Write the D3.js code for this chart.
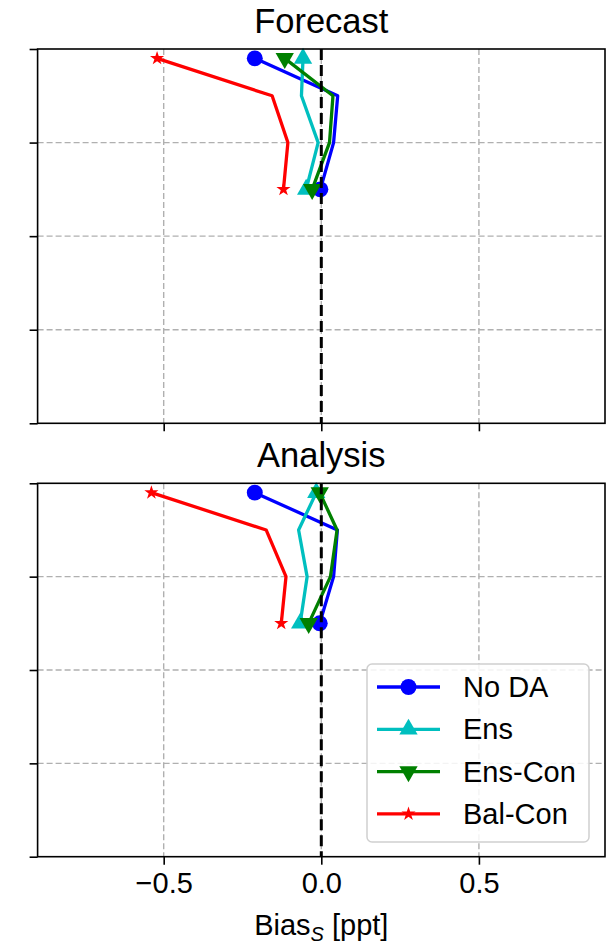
<!DOCTYPE html>
<html>
<head>
<meta charset="utf-8">
<script src="https://cdn.jsdelivr.net/npm/d3@7"></script>
<style>
  body { margin: 0; background: #fff; }
  svg { display: block; font-family: "Liberation Sans", Arial, sans-serif; }
</style>
</head>
<body>
<div id="chart"></div>
<script>
// depth levels (hidden y labels)
var depths = [5, 25, 50, 75];
var yTicks = [0, 50, 100, 150, 200];
var xTicks = [-0.5, 0, 0.5];
var seriesNames = ["No DA", "Ens", "Ens-Con", "Bal-Con"];

var forecastNoDA   = [-0.211, 0.052, 0.039, -0.003];
var forecastEns    = [-0.058, -0.063, -0.010, -0.048];
var forecastEnsCon = [-0.116, 0.037, 0.026, -0.029];
var forecastBalCon = [-0.521, -0.156, -0.106, -0.120];

var analysisNoDA   = [-0.211, 0.051, 0.039, -0.005];
var analysisEns    = [-0.016, -0.072, -0.045, -0.067];
var analysisEnsCon = [-0.005, 0.050, 0.029, -0.040];
var analysisBalCon = [-0.539, -0.175, -0.112, -0.127];

var colors = ["#0000ff", "#00bfbf", "#008000", "#ff0000"];
var symbols = [d3.symbolCircle, d3.symbolTriangle, d3.symbolTriangle, d3.symbolStar];
var symSizes = [200, 145, 145, 62];
var symRotate = [0, 0, 180, 0];

var width = 615, height = 945;
var svg = d3.select("#chart").append("svg")
    .attr("width", width)
    .attr("height", height);

var x = d3.scaleLinear().domain([-0.9, 0.9]).range([37.6, 605]);

function symbolPath(i) {
    return d3.symbol().type(symbols[i]).size(symSizes[i])();
}

function drawPanel(top, bottom, title, series, showLabels) {
    var y = d3.scaleLinear().domain([0, 200]).range([top, bottom]);
    var g = svg.append("g");

    // grid
    g.selectAll(".gx").data(xTicks).enter().append("line")
        .attr("x1", function (d) { return x(d); })
        .attr("x2", function (d) { return x(d); })
        .attr("y1", top).attr("y2", bottom)
        .attr("stroke", "#b0b0b0").attr("stroke-width", 1.4)
        .attr("stroke-dasharray", "6,3");
    g.selectAll(".gy").data(yTicks.slice(1, -1)).enter().append("line")
        .attr("x1", x.range()[0]).attr("x2", x.range()[1])
        .attr("y1", function (d) { return y(d); })
        .attr("y2", function (d) { return y(d); })
        .attr("stroke", "#b0b0b0").attr("stroke-width", 1.4)
        .attr("stroke-dasharray", "6,3");

    var line = d3.line()
        .x(function (d) { return x(d[0]); })
        .y(function (d) { return y(d[1]); });

    series.forEach(function (vals, i) {
        var pts = vals.map(function (v, j) { return [v, depths[j]]; });
        g.append("path")
            .attr("d", line(pts))
            .attr("fill", "none")
            .attr("stroke", colors[i])
            .attr("stroke-width", 3.3)
            .attr("stroke-linejoin", "round");
        [pts[0], pts[pts.length - 1]].forEach(function (p) {
            g.append("path")
                .attr("d", symbolPath(i))
                .attr("fill", colors[i])
                .attr("transform", "translate(" + x(p[0]) + "," + y(p[1]) + ") rotate(" + symRotate[i] + ")");
        });
    });

    // zero line
    g.append("line")
        .attr("x1", x(0)).attr("x2", x(0))
        .attr("y1", top).attr("y2", bottom)
        .attr("stroke", "#000").attr("stroke-width", 3)
        .attr("stroke-dasharray", "11,5");

    // frame
    g.append("rect")
        .attr("x", x.range()[0]).attr("y", top)
        .attr("width", x.range()[1] - x.range()[0])
        .attr("height", bottom - top)
        .attr("fill", "none").attr("stroke", "#000").attr("stroke-width", 1.6);

    var xAxis = d3.axisBottom(x).tickValues(xTicks).tickSize(8).tickPadding(8)
        .tickFormat(showLabels ? d3.format(".1f") : "");
    var xa = g.append("g").attr("transform", "translate(0," + bottom + ")").call(xAxis);
    xa.select(".domain").remove();
    xa.selectAll("line").attr("stroke-width", 1.6);
    xa.selectAll("text").attr("font-size", 29).attr("fill", "#000")
        .attr("font-family", "Liberation Sans, Arial, sans-serif");

    var yAxis = d3.axisLeft(y).tickValues(yTicks).tickSize(8).tickFormat("");
    var ya = g.append("g").attr("transform", "translate(" + x.range()[0] + ",0)").call(yAxis);
    ya.select(".domain").remove();
    ya.selectAll("line").attr("stroke-width", 1.6);

    g.append("text")
        .attr("x", x(0)).attr("y", top - 16)
        .attr("text-anchor", "middle")
        .attr("font-size", 34.5)
        .text(title);

    return y;
}

drawPanel(49, 423.3, "Forecast",
    [forecastNoDA, forecastEns, forecastEnsCon, forecastBalCon], false);
drawPanel(483.3, 856.7, "Analysis",
    [analysisNoDA, analysisEns, analysisEnsCon, analysisBalCon], true);

// x label
var xl = svg.append("text")
    .attr("x", x(0)).attr("y", 935)
    .attr("text-anchor", "middle")
    .attr("font-size", 29);
xl.append("tspan").text("Bias");
xl.append("tspan").attr("font-size", 20).attr("font-style", "italic").attr("dy", 6).text("S");
xl.append("tspan").attr("dy", -6).text(" [ppt]");

// legend
var lg = svg.append("g");
lg.append("rect")
    .attr("x", 367).attr("y", 664)
    .attr("width", 222).attr("height", 178)
    .attr("rx", 5)
    .attr("fill", "#fff").attr("fill-opacity", 0.85)
    .attr("stroke", "#d0d0d0").attr("stroke-width", 1.5);
seriesNames.forEach(function (name, i) {
    var ry = 687 + i * 42.3;
    lg.append("line")
        .attr("x1", 377).attr("x2", 440)
        .attr("y1", ry).attr("y2", ry)
        .attr("stroke", colors[i]).attr("stroke-width", 3.3);
    lg.append("path")
        .attr("d", symbolPath(i))
        .attr("fill", colors[i])
        .attr("transform", "translate(408.5," + ry + ") rotate(" + symRotate[i] + ")");
    lg.append("text")
        .attr("x", 463).attr("y", ry + 10)
        .attr("font-size", 29)
        .text(name);
});
</script>
</body>
</html>
